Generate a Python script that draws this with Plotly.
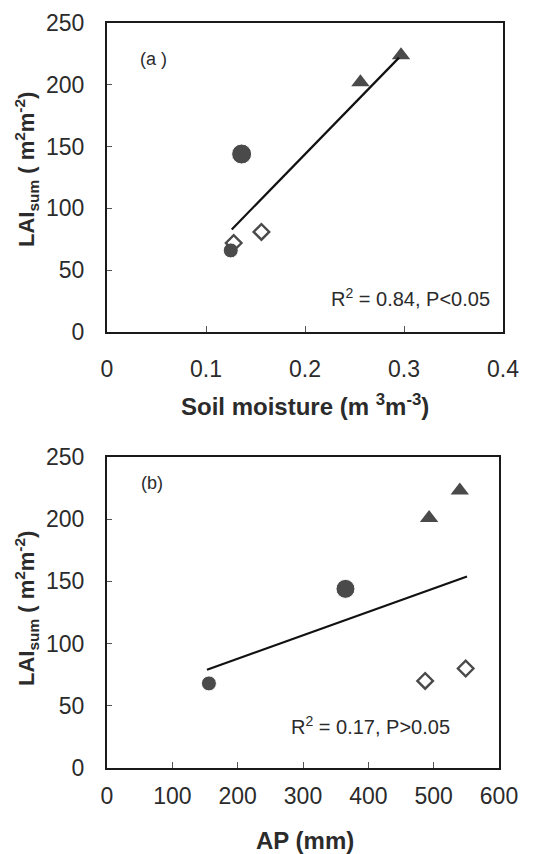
import plotly.graph_objects as go

# ---- Data ----
# Panel (a): soil moisture vs LAIsum
sm_circle_x = [0.125, 0.136]
sm_circle_y = [66, 144]
sm_diamond_x = [0.128, 0.156]
sm_diamond_y = [72, 81]
sm_triangle_x = [0.256, 0.297]
sm_triangle_y = [202, 224]
sm_fit_x = [0.126, 0.295]
sm_fit_y = [83, 222]

# Panel (b): AP vs LAIsum
ap_circle_x = [156, 365]
ap_circle_y = [68, 144]
ap_diamond_x = [487, 549]
ap_diamond_y = [70, 80]
ap_triangle_x = [493, 540]
ap_triangle_y = [201, 223]
ap_fit_x = [153, 551]
ap_fit_y = [79, 154]

y_ticks = [0, 50, 100, 150, 200, 250]
sm_ticks = [0, 0.1, 0.2, 0.3, 0.4]
sm_ticklabels = ["0", "0.1", "0.2", "0.3", "0.4"]
ap_ticks = [0, 100, 200, 300, 400, 500, 600]

MARK = "#4a4a4a"
TXT = "#2b2b2b"
FONT = "Liberation Sans, Arial, sans-serif"

fig = go.Figure()

def add_panel(xa, ya, cx, cy, dx, dy, tx, ty, fx, fy, csizes):
    fig.add_trace(go.Scatter(x=cx, y=cy, mode="markers", xaxis=xa, yaxis=ya,
                             marker=dict(symbol="circle", size=csizes, color=MARK,
                                         opacity=1),
                             showlegend=False))
    fig.add_trace(go.Scatter(x=dx, y=dy, mode="markers", xaxis=xa, yaxis=ya,
                             marker=dict(symbol="diamond-open", size=12, color=MARK,
                                         opacity=1, line=dict(width=2.4, color=MARK)),
                             showlegend=False))
    fig.add_trace(go.Scatter(x=tx, y=ty, mode="markers", xaxis=xa, yaxis=ya,
                             marker=dict(symbol="triangle-up", size=16, color=MARK,
                                         opacity=1),
                             showlegend=False))
    fig.add_trace(go.Scatter(x=fx, y=fy, mode="lines", xaxis=xa, yaxis=ya,
                             line=dict(color="#111111", width=2.2),
                             showlegend=False))

add_panel("x", "y", sm_circle_x, sm_circle_y, sm_diamond_x, sm_diamond_y,
          sm_triangle_x, sm_triangle_y, sm_fit_x, sm_fit_y, [15, 20])
add_panel("x2", "y2", ap_circle_x, ap_circle_y, ap_diamond_x, ap_diamond_y,
          ap_triangle_x, ap_triangle_y, ap_fit_x, ap_fit_y, [15, 19])

W, H = 541, 854

def xd(a, b):
    return [a / W, b / W]

def yd(top, bottom):
    return [(H - bottom) / H, (H - top) / H]

axis_common = dict(showline=True, linecolor="#1a1a1a", linewidth=2, mirror=True,
                   showgrid=False, zeroline=False, automargin=False,
                   ticks="inside", tickcolor="#555", tickwidth=1,
                   tickfont=dict(family=FONT, size=23, color=TXT))

fig.update_layout(
    width=W, height=H,
    margin=dict(l=0, r=0, t=0, b=0),
    paper_bgcolor="white", plot_bgcolor="white",
    font=dict(family=FONT, color=TXT),
    xaxis=dict(domain=xd(107, 503), range=[0, 0.4], tickvals=sm_ticks,
               ticktext=sm_ticklabels, ticklen=6,
               ticklabelstandoff=15, anchor="y", **axis_common),
    yaxis=dict(domain=yd(23, 332), range=[0, 250], tickvals=y_ticks, ticklen=5,
               ticklabelstandoff=16, anchor="x", **axis_common),
    xaxis2=dict(domain=xd(107, 499), range=[0, 600], tickvals=ap_ticks, ticklen=6,
                ticklabelstandoff=6, anchor="y2", **axis_common),
    yaxis2=dict(domain=yd(457, 768), range=[0, 250], tickvals=y_ticks, ticklen=5,
                ticklabelstandoff=16, anchor="x2", **axis_common),
)

def py(px):
    return (H - px) / H

ann = [
    dict(text="(a )", x=153 / W, y=py(59), font=dict(size=18)),
    dict(text="R<sup>2</sup> = 0.84, P<0.05", x=410 / W, y=py(297), font=dict(size=20)),
    dict(text="(b)", x=152 / W, y=py(483), font=dict(size=18)),
    dict(text="R<sup>2</sup> = 0.17, P>0.05", x=370 / W, y=py(725), font=dict(size=20)),
    dict(text="<b>Soil moisture (m <sup>3</sup>m<sup>-3</sup>)</b>", x=305 / W, y=py(405),
         font=dict(size=24)),
    dict(text="<b>AP (mm)</b>", x=305 / W, y=py(840), font=dict(size=24)),
    dict(text="<b>LAI<sub>sum</sub> ( m<sup>2</sup>m<sup>-2</sup>)</b>", x=26 / W, y=py(170),
         textangle=-90, font=dict(size=22)),
    dict(text="<b>LAI<sub>sum</sub> ( m<sup>2</sup>m<sup>-2</sup>)</b>", x=26 / W, y=py(609),
         textangle=-90, font=dict(size=22)),
]
for a in ann:
    a.setdefault("xref", "paper")
    a.setdefault("yref", "paper")
    a["showarrow"] = False
    a["xanchor"] = "center"
    a["yanchor"] = "middle"
    a["font"] = dict(family=FONT, color=TXT, **a["font"])
    fig.add_annotation(**a)

fig.write_html(
    "out.html",
    config={"displayModeBar": False},
    post_script="document.body.style.margin='0';document.body.style.overflow='hidden';",
)
